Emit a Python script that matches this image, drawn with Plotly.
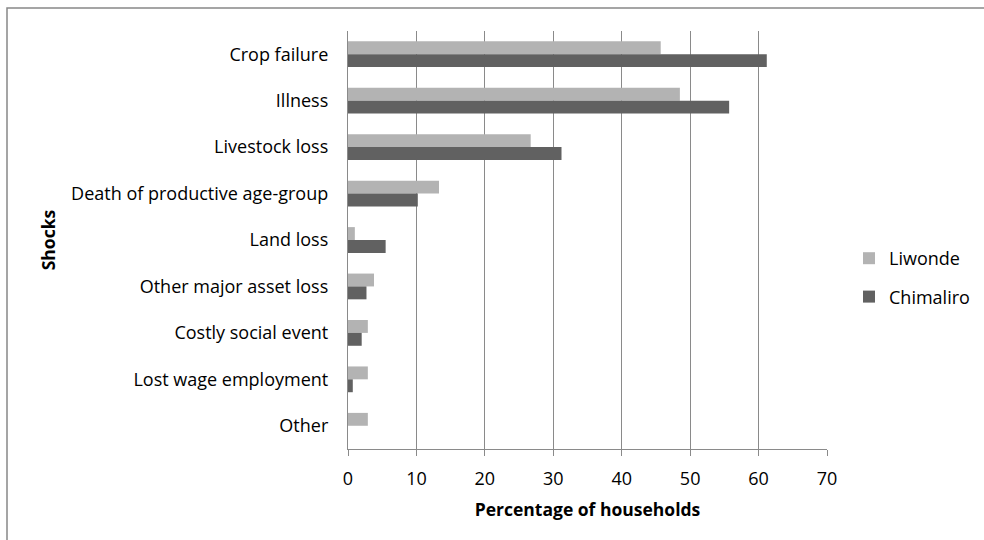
import plotly.graph_objects as go

# Household shocks reported in the two study areas (% of households)
shocks = [
    "Crop failure",
    "Illness",
    "Livestock loss",
    "Death of productive age-group",
    "Land loss",
    "Other major asset loss",
    "Costly social event",
    "Lost wage employment",
    "Other",
]
liwonde = [45.7, 48.5, 26.7, 13.3, 1.0, 3.8, 2.9, 2.9, 2.9]
chimaliro = [61.2, 55.7, 31.2, 10.2, 5.5, 2.7, 2.0, 0.7, 0.0]

x_ticks = [0, 10, 20, 30, 40, 50, 60, 70]

FONT = "Open Sans"
FS = 18
TITLE_FS = 17.5
GRID = "#8a8a8a"

fig = go.Figure()
fig.add_trace(go.Bar(
    y=shocks, x=liwonde, name="Liwonde", orientation="h",
    marker=dict(color="#b3b3b3", line=dict(width=0)),
    legendgroup="a",
))
fig.add_trace(go.Bar(
    y=shocks, x=chimaliro, name="Chimaliro", orientation="h",
    marker=dict(color="#616161", line=dict(width=0)),
    legendgroup="b",
))

fig.update_layout(
    width=984, height=540,
    margin=dict(l=348, r=157, t=31, b=91),
    paper_bgcolor="white", plot_bgcolor="white",
    barmode="group", bargap=0.445, bargroupgap=0,
    font=dict(family=FONT, size=FS, color="#000000"),
    showlegend=True,
    legend=dict(
        xref="container", yref="container",
        x=849 / 984, y=1 - 240 / 540, xanchor="left", yanchor="top",
        font=dict(family=FONT, size=FS, color="#000000"),
        traceorder="grouped", tracegroupgap=12,
        bgcolor="rgba(0,0,0,0)",
    ),
    shapes=[dict(
        type="rect", xref="paper", yref="paper",
        x0=(7 - 348) / 479, x1=(990 - 348) / 479,
        y0=(540 - 550 - 91) / 418, y1=(449 - 8) / 418,
        line=dict(color="#888888", width=1.5), fillcolor="rgba(0,0,0,0)",
        layer="below",
    )],
)

fig.update_xaxes(
    range=[0, 70], tickvals=x_ticks, ticktext=[str(v) for v in x_ticks],
    showgrid=True, gridcolor=GRID, gridwidth=1.3,
    showline=True, linecolor=GRID, linewidth=1.3,
    ticks="outside", ticklen=6, tickcolor=GRID, tickwidth=1.3,
    ticklabelstandoff=7,
    zeroline=False,
    tickfont=dict(family=FONT, size=FS, color="#000000"),
    title=dict(text="<b>Percentage of households</b>", standoff=14,
               font=dict(family=FONT, size=TITLE_FS, color="#000000")),
)
fig.update_yaxes(
    autorange="reversed",
    showgrid=False,
    showline=True, linecolor=GRID, linewidth=1.3,
    ticks="", ticklabelstandoff=15,
    tickfont=dict(family=FONT, size=FS, color="#000000"),
    title=dict(text="<b>Shocks</b>", standoff=10,
               font=dict(family=FONT, size=TITLE_FS, color="#000000")),
)

fig.write_html("out.html")
